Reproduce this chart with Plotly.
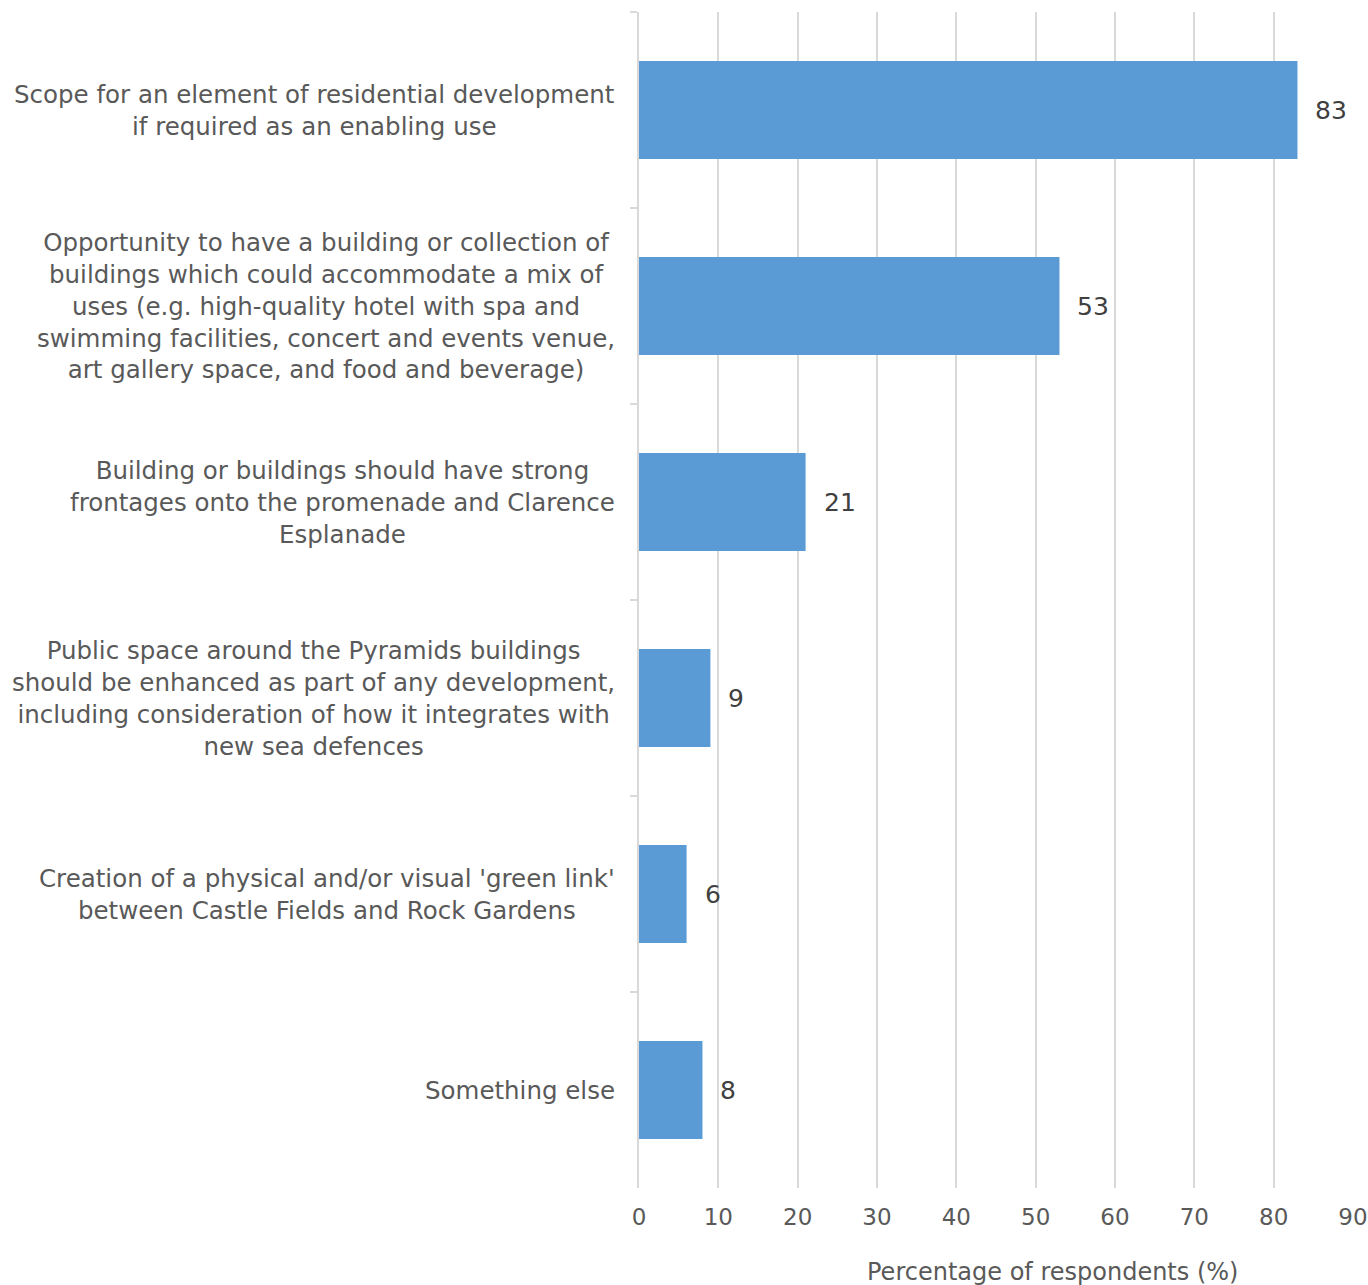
import plotly.graph_objects as go

# Survey options (line breaks as laid out next to the bars)
categories = [
    "Scope for an element of residential development<br>if required as an enabling use",
    "Opportunity to have a building or collection of<br>buildings which could accommodate a mix of<br>uses (e.g. high-quality hotel with spa and<br>swimming facilities, concert and events venue,<br>art gallery space, and food and beverage)",
    "Building or buildings should have strong<br>frontages onto the promenade and Clarence<br>Esplanade",
    "Public space around the Pyramids buildings<br>should be enhanced as part of any development,<br>including consideration of how it integrates with<br>new sea defences",
    "Creation of a physical and/or visual 'green link'<br>between Castle Fields and Rock Gardens",
    "Something else",
]
percentages = [83, 53, 21, 9, 6, 8]
x_ticks = [0, 10, 20, 30, 40, 50, 60, 70, 80, 90]
x_title = "Percentage of respondents (%)"

FONT = "DejaVu Sans, Liberation Sans, Arial, sans-serif"
GRID = "#d9d9d9"

fig = go.Figure(
    go.Bar(
        x=percentages,
        y=categories,
        orientation="h",
        marker=dict(color="#5b9bd5", line=dict(width=0)),
        hoverinfo="x+y",
    )
)

# Category labels, centred line by line and right-aligned to the axis
for cat in categories:
    fig.add_annotation(
        x=0, xref="paper", y=cat, yref="y",
        text=cat, showarrow=False,
        xanchor="right", align="center", xshift=-22,
        font=dict(family=FONT, size=24.5, color="#595959"),
    )

# Value labels at the end of each bar
for cat, val in zip(categories, percentages):
    fig.add_annotation(
        x=val, xref="x", y=cat, yref="y",
        text=str(val), showarrow=False,
        xanchor="left", xshift=16,
        font=dict(family=FONT, size=25, color="#404040"),
    )

# Axis title
fig.add_annotation(
    x=(1052 - 639) / 714, xref="paper", y=0, yref="paper",
    text=x_title, showarrow=False,
    xanchor="center", yanchor="middle", yshift=-84,
    font=dict(family=FONT, size=24, color="#595959"),
)

fig.update_layout(
    width=1368,
    height=1285,
    margin=dict(l=639, r=15, t=12, b=97, autoexpand=False),
    plot_bgcolor="white",
    paper_bgcolor="white",
    bargap=0.5,
    showlegend=False,
    font=dict(family=FONT, color="#595959"),
)

fig.update_xaxes(
    range=[0, 90],
    tickvals=x_ticks,
    ticktext=[str(t) for t in x_ticks],
    showgrid=True,
    gridcolor=GRID,
    gridwidth=1.5,
    zeroline=False,
    showline=False,
    ticks="",
    ticklabelstandoff=13,
    tickfont=dict(family=FONT, size=23, color="#595959"),
    automargin=False,
    fixedrange=True,
)

fig.update_yaxes(
    type="category",
    categoryorder="array",
    categoryarray=categories,
    autorange="reversed",
    showticklabels=False,
    showgrid=False,
    zeroline=False,
    showline=True,
    linecolor=GRID,
    linewidth=1.5,
    ticks="outside",
    tickson="boundaries",
    ticklen=7,
    tickcolor=GRID,
    tickwidth=1.5,
    automargin=False,
    fixedrange=True,
)

fig.write_html("out.html")
